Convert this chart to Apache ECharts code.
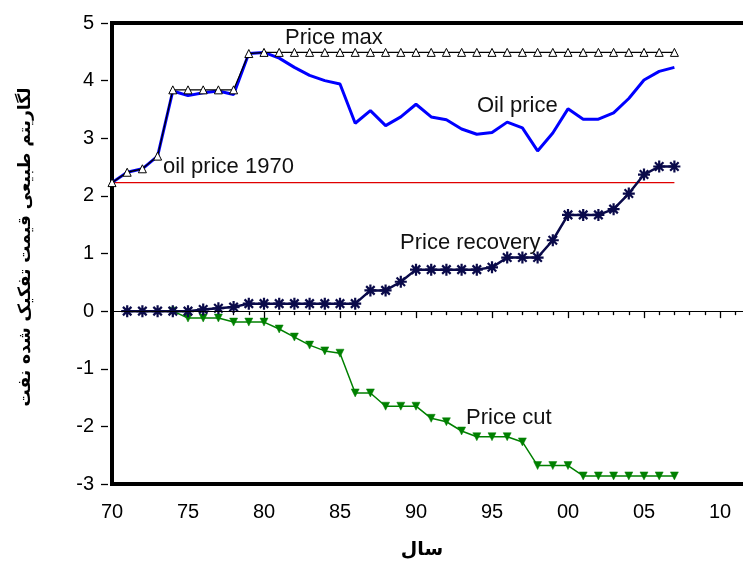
<!DOCTYPE html>
<html>
<head>
<meta charset="utf-8">
<script src="https://cdn.jsdelivr.net/npm/echarts@6/dist/echarts.min.js"></script>
<style>
html,body{margin:0;padding:0;background:#fff;}
#c{width:743px;height:562px;}
</style>
</head>
<body>
<div id="c"></div>
<script>
var years = [1970,1971,1972,1973,1974,1975,1976,1977,1978,1979,
             1980,1981,1982,1983,1984,1985,1986,1987,1988,1989,
             1990,1991,1992,1993,1994,1995,1996,1997,1998,1999,
             2000,2001,2002,2003,2004,2005,2006,2007];
var priceMax = [2.23,2.41,2.47,2.69,3.84,3.84,3.84,3.84,3.84,4.47,
                4.49,4.49,4.49,4.49,4.49,4.49,4.49,4.49,4.49,4.49,
                4.49,4.49,4.49,4.49,4.49,4.49,4.49,4.49,4.49,4.49,
                4.49,4.49,4.49,4.49,4.49,4.49,4.49,4.49];
var oilPrice = [2.23,2.41,2.47,2.69,3.82,3.74,3.79,3.82,3.76,4.47,
                4.49,4.39,4.23,4.09,4.00,3.94,3.26,3.48,3.22,3.37,
                3.59,3.37,3.32,3.16,3.07,3.10,3.28,3.18,2.78,3.09,
                3.51,3.33,3.33,3.44,3.69,4.01,4.16,4.23];
var priceRecovery = [null,0,0,0,0,0,0.03,0.05,0.07,0.13,
                     0.13,0.13,0.13,0.13,0.13,0.13,0.13,0.36,0.36,0.51,
                     0.72,0.72,0.72,0.72,0.72,0.76,0.93,0.93,0.93,1.23,
                     1.67,1.67,1.67,1.77,2.04,2.37,2.51,2.51];
var priceCut = [null,null,null,null,0,-0.12,-0.12,-0.12,-0.19,-0.19,
                -0.19,-0.31,-0.45,-0.59,-0.69,-0.73,-1.42,-1.42,-1.65,-1.65,
                -1.65,-1.86,-1.92,-2.08,-2.18,-2.18,-2.18,-2.27,-2.68,-2.68,
                -2.68,-2.86,-2.86,-2.86,-2.86,-2.86,-2.86,-2.86];
var oil1970Years = [1970, 2007];
var oil1970Value = 2.23;
var xTickLabels = {1970:'70',1975:'75',1980:'80',1985:'85',1990:'90',1995:'95',2000:'00',2005:'05',2010:'10'};
var yTicks = [-3,-2,-1,0,1,2,3,4,5];

function pairs(vals){ var out=[]; for(var i=0;i<years.length;i++){ if(vals[i]!==null) out.push([years[i], vals[i]]); } return out; }

var chart = echarts.init(document.getElementById('c'), null, {renderer:'canvas'});
var F = '"Liberation Sans", Arial, sans-serif';
var asterisk = 'path://M0,6L12,6M6,0L6,12M1.76,1.76L10.24,10.24M10.24,1.76L1.76,10.24';
var navy = '#0a0a4a';

chart.setOption({
  animation:false,
  backgroundColor:'#ffffff',
  grid:{left:112, top:23, width:684, height:461, outerBoundsMode:'none', containLabel:false,
        show:true, borderColor:'#000', borderWidth:4, backgroundColor:'transparent'},
  xAxis:{type:'value', min:1970, max:2015, interval:5, offset:5,
    axisLine:{show:false},
    axisTick:{show:true, length:7, lineStyle:{color:'#000', width:1.3}},
    minorTick:{show:true, splitNumber:5, length:4, lineStyle:{color:'#000', width:1.3}},
    splitLine:{show:false}, minorSplitLine:{show:false},
    axisLabel:{margin:13, color:'#000', fontSize:20, fontFamily:F, hideOverlap:false,
      formatter:function(v){ return xTickLabels[v] || ''; }}
  },
  yAxis:{type:'value', min:yTicks[0], max:yTicks[yTicks.length-1], interval:1, offset:4,
    axisLine:{show:false},
    axisTick:{show:true, length:7, lineStyle:{color:'#000', width:1.3}},
    splitLine:{show:false},
    axisLabel:{margin:14, color:'#000', fontSize:20, fontFamily:F}
  },
  series:[
    {type:'line', name:'oil price 1970', data:oil1970Years.map(function(y){return [y, oil1970Value];}),
     showSymbol:false, lineStyle:{color:'#e00000', width:1.3}, z:1,
     markLine:{silent:true, symbol:['none','none'], label:{show:false}, lineStyle:{color:'#000', width:1.2, type:'solid'}, data:[{yAxis:0}]}},
    {type:'line', name:'Price cut', data:pairs(priceCut), symbol:'triangle', symbolRotate:180, symbolSize:8,
     lineStyle:{color:'#008000', width:1.5}, itemStyle:{color:'#008000', borderColor:'#008000', borderWidth:0.5}, z:2},
    {type:'line', name:'Price recovery', data:pairs(priceRecovery), symbol:asterisk, symbolSize:12,
     lineStyle:{color:navy, width:2.5}, itemStyle:{color:navy, borderColor:navy, borderWidth:2.2}, z:3},
    {type:'line', name:'Oil price', data:pairs(oilPrice), showSymbol:false,
     lineStyle:{color:'#0000ff', width:3}, z:4},
    {type:'line', name:'Price max', data:pairs(priceMax), symbol:'triangle', symbolSize:8,
     lineStyle:{color:'#000', width:1.3}, itemStyle:{color:'#fff', borderColor:'#000', borderWidth:1}, z:5}
  ],
  graphic:[
    {type:'text', x:285, y:38, style:{text:'Price max', font:'22px '+F, fill:'#111', verticalAlign:'middle'}},
    {type:'text', x:477, y:106, style:{text:'Oil price', font:'22px '+F, fill:'#111', verticalAlign:'middle'}},
    {type:'text', x:163, y:167, style:{text:'oil price 1970', font:'22px '+F, fill:'#111', verticalAlign:'middle'}},
    {type:'text', x:400, y:243, style:{text:'Price recovery', font:'22px '+F, fill:'#111', verticalAlign:'middle'}},
    {type:'text', x:466, y:418, style:{text:'Price cut', font:'22px '+F, fill:'#111', verticalAlign:'middle'}},
    {type:'text', x:422, y:550, style:{text:'سال', font:'bold 19px "DejaVu Sans", sans-serif', fill:'#000', align:'center', verticalAlign:'middle'}},
    {type:'text', x:26, y:247, rotation:Math.PI/2, style:{text:'لگاریتم طبیعی قیمت تفکیک شده نفت', font:'bold 17px "DejaVu Sans", sans-serif', fill:'#000', align:'center', verticalAlign:'middle'}}
  ]
});
</script>
</body>
</html>
